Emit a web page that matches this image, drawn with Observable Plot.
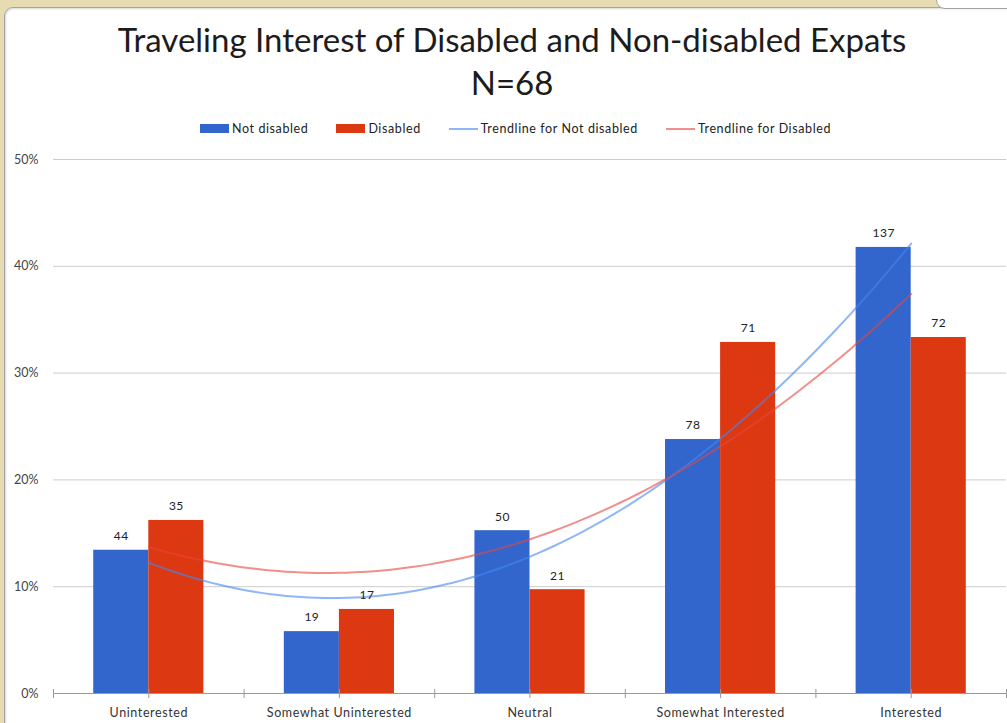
<!DOCTYPE html>
<html>
<head>
<meta charset="utf-8">
<script src="https://cdn.jsdelivr.net/npm/d3@7"></script>
<script src="https://cdn.jsdelivr.net/npm/@observablehq/plot@0.6"></script>
<style>
  html, body { margin: 0; padding: 0; }
  body { width: 1007px; height: 723px; overflow: hidden; background: #e7dbb2; position: relative; font-family: Lato, "Open Sans", sans-serif; }
  #panel { position: absolute; left: 4px; top: 7px; width: 1020px; height: 740px; background: #fff; border: 1px solid #a3a3a3; border-top-left-radius: 9px; box-shadow: inset 1px 1px 2px rgba(0,0,0,0.15); }
  #corner { position: absolute; left: 936px; top: -12px; width: 100px; height: 19px; background: #fff; border: 1px solid #a3a3a3; border-bottom-left-radius: 9px; }
  #title { position: absolute; left: 0; width: 1024px; top: 18px; text-align: center; font-size: 33px; color: #1c1c1c; line-height: 43px; }
  #legend { position: absolute; left: 0; width: 1031px; top: 121px; display: flex; justify-content: center; gap: 28px; font-size: 12.5px; letter-spacing: 0.6px; color: #222; }
  .item { display: flex; align-items: center; gap: 3px; }
  .sw { width: 29px; height: 9px; }
  .ln { width: 29px; height: 2px; }
  #chart { position: absolute; left: 0; top: 0; }
</style>
</head>
<body>
<div id="panel"></div>
<div id="corner"></div>
<div id="title">Traveling Interest of Disabled and Non-disabled Expats<br>N=68</div>
<div id="legend"></div>
<div id="chart"></div>
<script>
const categories = ["Uninterested", "Somewhat Uninterested", "Neutral", "Somewhat Interested", "Interested"];
const notDisabledCounts = [44, 19, 50, 78, 137];
const disabledCounts = [35, 17, 21, 71, 72];
const seriesNames = ["Not disabled", "Disabled"];
const trendNames = ["Trendline for Not disabled", "Trendline for Disabled"];
const yTicks = [0, 0.1, 0.2, 0.3, 0.4, 0.5];

const barColors = ["#3366cc", "#dc3912"];
const trendColors = ["#4285f4", "#e8453c"];
const trendOpacity = 0.6;
const barHalf = 0.289; // bar width as a fraction of the category step

function toRows(counts, series, side) {
  const total = d3.sum(counts);
  return counts.map((c, i) => ({ i: i + 1, cat: categories[i], count: c, pct: c / total, series, side }));
}
const rows = [...toRows(notDisabledCounts, seriesNames[0], -1), ...toRows(disabledCounts, seriesNames[1], 1)];

// Quadratic (polynomial order 2) least-squares trendline, as in the spreadsheet
function quadFit(pts) {
  const S = (f) => d3.sum(pts, f);
  const A = [
    [pts.length, S(p => p.i), S(p => p.i ** 2)],
    [S(p => p.i), S(p => p.i ** 2), S(p => p.i ** 3)],
    [S(p => p.i ** 2), S(p => p.i ** 3), S(p => p.i ** 4)]
  ];
  const b = [S(p => p.pct), S(p => p.i * p.pct), S(p => p.i ** 2 * p.pct)];
  const n = 3;
  for (let k = 0; k < n; k++) {
    for (let r = k + 1; r < n; r++) {
      const f = A[r][k] / A[k][k];
      for (let c = k; c < n; c++) A[r][c] -= f * A[k][c];
      b[r] -= f * b[k];
    }
  }
  const x = [0, 0, 0];
  for (let k = n - 1; k >= 0; k--) {
    let s = b[k];
    for (let c = k + 1; c < n; c++) s -= A[k][c] * x[c];
    x[k] = s / A[k][k];
  }
  return t => x[0] + x[1] * t + x[2] * t * t;
}
const trendRows = [];
seriesNames.forEach((s, k) => {
  const f = quadFit(rows.filter(r => r.series === s));
  for (const t of d3.range(1, 5.0001, 0.04)) trendRows.push({ t, v: f(t), series: trendNames[k] });
});

// legend
const legend = document.getElementById("legend");
seriesNames.forEach((s, k) => {
  legend.insertAdjacentHTML("beforeend", `<div class="item"><div class="sw" style="background:${barColors[k]}"></div><span>${s}</span></div>`);
});
trendNames.forEach((s, k) => {
  legend.insertAdjacentHTML("beforeend", `<div class="item"><div class="ln" style="background:${trendColors[k]};opacity:${trendOpacity}"></div><span>${s}</span></div>`);
});

const plot = Plot.plot({
  width: 1007,
  height: 723,
  marginTop: 159,
  marginBottom: 30,
  marginLeft: 53,
  marginRight: 1,
  style: { background: "transparent", fontFamily: "Lato, 'Open Sans', sans-serif", color: "#333" },
  x: { type: "linear", domain: [0.5, 5.5] },
  y: { domain: [0, 0.5] },
  marks: [
    Plot.gridY(yTicks, { stroke: "#cccccc", strokeOpacity: 1 }),
    Plot.axisY(yTicks, { tickFormat: d3.format(".0%"), tickSize: 0, tickPadding: 15, fontSize: 12.5, fill: "#444", label: null }),
    Plot.rectY(rows, {
      x1: d => d.side < 0 ? d.i - barHalf : d.i,
      x2: d => d.side < 0 ? d.i : d.i + barHalf,
      y: "pct",
      fill: d => barColors[seriesNames.indexOf(d.series)]
    }),
    Plot.ruleY([0], { stroke: "#999" }),
    Plot.axisX(d3.range(0.5, 5.51, 0.5), {
      tickFormat: d => Number.isInteger(d) ? categories[d - 1] : "",
      tickSize: 9, dy: -4, tickPadding: 10, stroke: "#999", fontSize: 12.5, fill: "#333", label: null
    }),
    Plot.line(trendRows, {
      x: "t", y: "v", z: "series",
      stroke: d => trendColors[trendNames.indexOf(d.series)],
      strokeWidth: 2, strokeOpacity: trendOpacity, curve: "linear"
    }),
    Plot.text(rows, {
      x: d => d.i + d.side * barHalf / 2,
      y: "pct",
      text: d => String(d.count),
      dy: -14, fontSize: 12, fill: "#222"
    })
  ]
});
plot.querySelectorAll('g[aria-label="x-axis tick label"] text').forEach(t => t.style.letterSpacing = "0.6px");
plot.querySelectorAll('g[aria-label="text"] text').forEach(t => t.style.letterSpacing = "0.5px");
document.getElementById("chart").appendChild(plot);
</script>
</body>
</html>
